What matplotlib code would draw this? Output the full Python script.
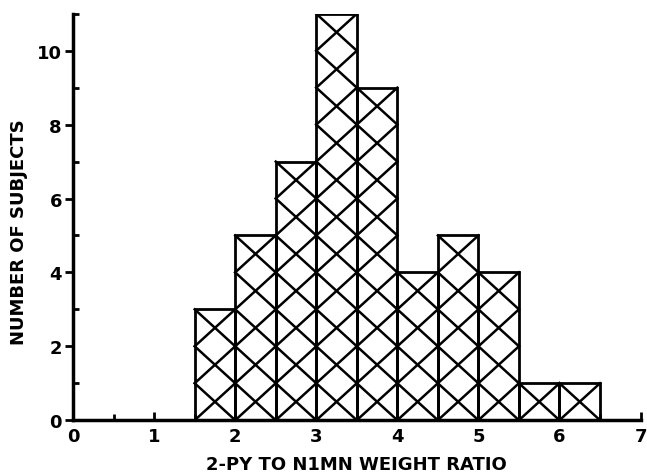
import numpy as np
from matplotlib import pyplot as plt
from matplotlib.ticker import MultipleLocator

# histogram bins (left edges, width 0.5) and counts
bin_left = [1.5, 2.0, 2.5, 3.0, 3.5, 4.0, 4.5, 5.0, 5.5, 6.0]
counts = [3, 5, 7, 11, 9, 4, 5, 4, 1, 1]
bin_width = 0.5

x_ticks = [0, 1, 2, 3, 4, 5, 6, 7]
y_ticks = [0, 2, 4, 6, 8, 10]

plt.rcParams['font.family'] = ['DejaVu Sans']
plt.rcParams['font.weight'] = 'bold'

fig = plt.figure(figsize=(6.47, 4.77), dpi=100)
ax = fig.add_axes([0.113, 0.117, 0.877, 0.852])

ax.bar(bin_left, counts, width=bin_width, align='edge', fill=False,
       edgecolor='black', linewidth=2.0, zorder=3)

# cross-hatching: one X per unit cell of each bar
for left, n in zip(bin_left, counts):
    for k in range(n):
        ax.plot([left, left + bin_width], [k, k + 1], color='black', lw=1.8, zorder=2)
        ax.plot([left, left + bin_width], [k + 1, k], color='black', lw=1.8, zorder=2)

ax.set_xlim(0, 7)
ax.set_ylim(0, 11)
ax.set_xticks(x_ticks)
ax.set_yticks(y_ticks)
ax.xaxis.set_minor_locator(MultipleLocator(0.5))
ax.yaxis.set_minor_locator(MultipleLocator(1))

for side in ['top', 'right']:
    ax.spines[side].set_visible(False)
for side in ['left', 'bottom']:
    ax.spines[side].set_linewidth(2.5)

ax.tick_params(axis='x', which='both', direction='in', width=2, labelsize=13, pad=5)
ax.tick_params(axis='x', which='major', length=6)
ax.tick_params(axis='x', which='minor', length=4)
ax.tick_params(axis='y', which='major', direction='out', length=6, width=2, labelsize=13, pad=2)
ax.tick_params(axis='y', which='minor', direction='in', length=4, width=2)

ax.set_xlabel("2-PY TO N1MN WEIGHT RATIO", fontsize=13, fontweight='bold', labelpad=7)
ax.set_ylabel("NUMBER OF SUBJECTS", fontsize=13, fontweight='bold')
ax.yaxis.set_label_coords(-0.08, 0.465)

plt.savefig("out.png")
plt.close()
